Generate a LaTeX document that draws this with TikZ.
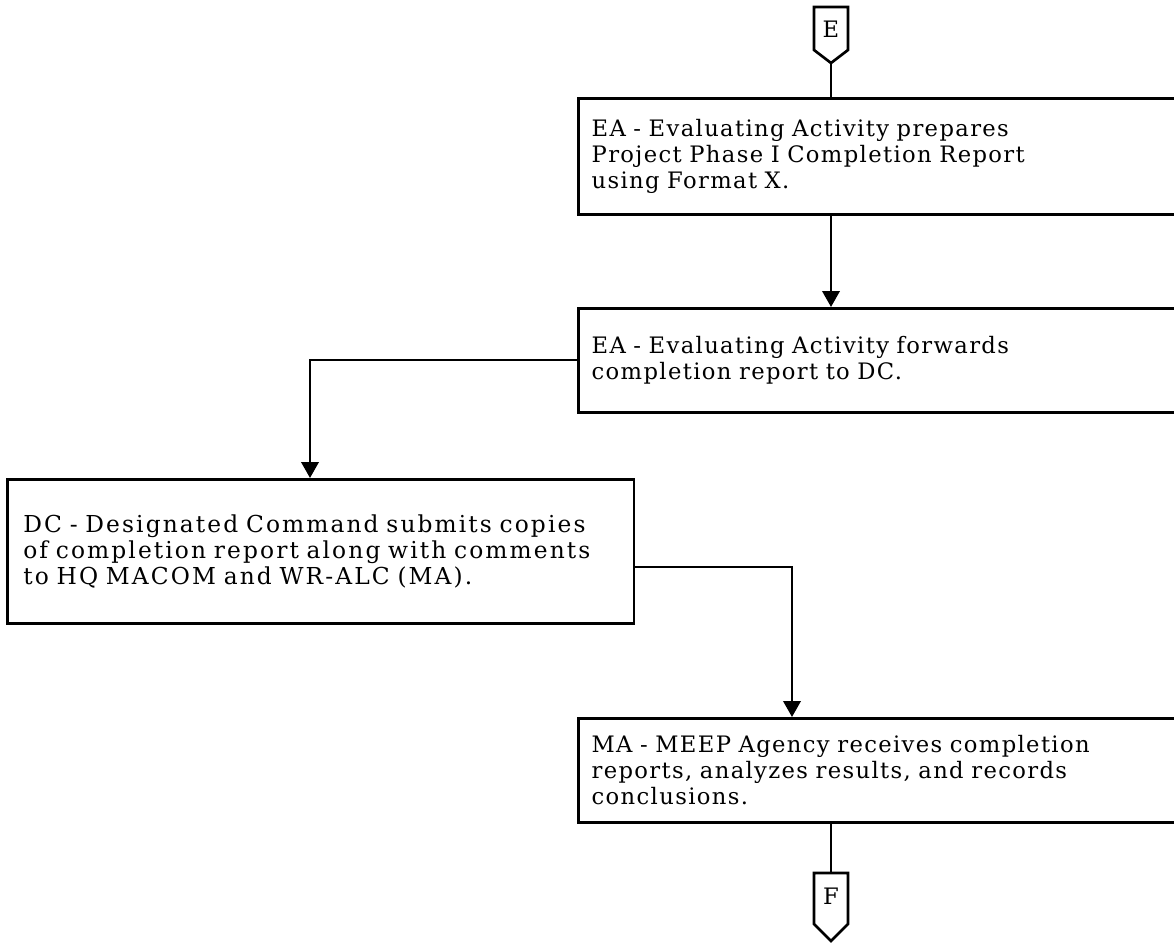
\documentclass[tikz,border=0pt]{standalone}
\usepackage{fontspec}
\setmainfont{DejaVu Serif}
\newfontfamily\boxfont{DejaVu Serif}[LetterSpace=6,WordSpace=1.6]
\newfontfamily\wideboxfont{DejaVu Serif}[LetterSpace=9,WordSpace=1.6]
\usetikzlibrary{arrows.meta}
\begin{document}
\begin{tikzpicture}[x=0.75pt,y=-0.75pt,
  ln/.style={line width=2pt},
  arr/.style={ln,-{Triangle[width=13pt,length=12pt]}},
  stepbox/.style={draw,line width=2pt,anchor=north west,align=left,
    font=\boxfont\fontsize{17}{19.5}\selectfont,inner ysep=0pt},
  widebox/.style={stepbox,font=\wideboxfont\fontsize{17.5}{19.5}\selectfont},
  letter/.style={font=\fontsize{17}{20}\selectfont,inner sep=0pt}]
\useasboundingbox (0,0) rectangle (1174,946);
\clip (0,0) rectangle (1174,946);
% boxes
\node[stepbox,minimum width=460pt,minimum height=87pt,text width=440pt,inner xsep=9pt] (b1) at (577,97)
 {EA - Evaluating Activity prepares\\Project Phase I Completion Report\\using Format X.};
\node[stepbox,minimum width=460pt,minimum height=78pt,text width=440pt,inner xsep=9pt] (b2) at (577,307)
 {EA - Evaluating Activity forwards\\completion report to DC.};
\node[widebox,minimum width=470pt,minimum height=108pt,text width=446pt,inner xsep=12pt] (b3) at (6,478)
 {DC - Designated Command submits copies\\of completion report along with comments\\to HQ MACOM and WR-ALC (MA).};
\node[stepbox,minimum width=460pt,minimum height=78pt,text width=440pt,inner xsep=9pt] (b4) at (577,717)
 {MA - MEEP Agency receives completion\\reports, analyzes results, and records\\conclusions.};
% off-page connectors
\node[letter] (E) at (831,29) {E};
\coordinate (Etip) at (831,63);
\draw[ln,line join=miter] (814,7) -- (848,7) -- (848,50) -- (Etip) -- (814,50) -- cycle;
\node[letter] (F) at (831,896) {F};
\coordinate (Ftop) at (831,873);
\draw[ln,line join=miter] (Ftop) -- (848,873) -- (848,924) -- (831,941) -- (814,924) -- (814,873) -- cycle;
% connectors
\coordinate (j1) at (310,360);
\coordinate (j2) at (792,567);
\draw[ln] (Etip) -- (b1.north -| Etip);
\draw[arr] (b1.south -| Etip) -- (b2.north -| Etip);
\draw[arr] (b2.west |- j1) -- (j1) -- (b3.north -| j1);
\draw[arr] (b3.east |- j2) -- (j2) -- (b4.north -| j2);
\draw[ln] (b4.south -| Ftop) -- (Ftop);
\end{tikzpicture}
\end{document}
